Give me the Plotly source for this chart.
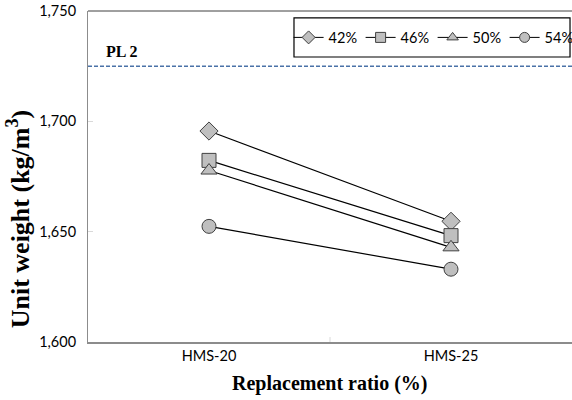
import plotly.graph_objects as go

categories = ["HMS-20", "HMS-25"]
s42 = [1695.6, 1654.7]
s46 = [1682.3, 1648.2]
s50 = [1677.7, 1642.9]
s54 = [1652.4, 1633.0]
series_names = ["42%", "46%", "50%", "54%"]
series_values = [s42, s46, s50, s54]
symbols = ["diamond", "square", "triangle-up", "circle"]
pl2_value = 1725
y_ticks = [1600, 1650, 1700, 1750]
y_ticklabels = ["1,600", "1,650", "1,700", "1,750"]

fig = go.Figure()
for name, vals, sym in zip(series_names, series_values, symbols):
    fig.add_trace(go.Scatter(
        x=categories, y=vals, name=name, mode="lines+markers",
        showlegend=False,
        line=dict(color="black", width=1.2),
        marker=dict(symbol=sym, size=14, color="#bfbfbf",
                    line=dict(color="#404040", width=1)),
    ))
# legend entries (smaller symbols as in the reference legend)
for name, sym in zip(series_names, symbols):
    fig.add_trace(go.Scatter(
        x=[None], y=[None], name=name, mode="lines+markers",
        line=dict(color="black", width=1),
        marker=dict(symbol=sym, size=10, color="#bfbfbf",
                    line=dict(color="#404040", width=1)),
    ))

fig.add_shape(type="line", xref="paper", yref="y", x0=0, x1=1,
              y0=pl2_value, y1=pl2_value,
              line=dict(color="#4a72a8", width=1.5, dash="4px,2px"))
fig.add_shape(type="line", xref="paper", yref="paper", x0=0, x1=1,
              y0=1, y1=1, line=dict(color="#404040", width=1))
# legend frame
fig.add_shape(type="rect", xref="paper", yref="paper", x0=0.4256, x1=0.9959,
              y0=0.861, y1=0.979, line=dict(color="black", width=1.2),
              fillcolor="rgba(0,0,0,0)")
fig.add_annotation(text="<b>PL 2</b>", xref="paper", yref="y", x=0.034,
                   y=pl2_value, yshift=15, xanchor="left", showarrow=False,
                   font=dict(family="Liberation Serif", size=16, color="black"))

fig.add_annotation(text="<b>Unit weight (kg/m<sup>3</sup>)</b>", xref="paper",
                   yref="paper", x=-0.143, y=0.5, yshift=-42, textangle=-90,
                   showarrow=False, xanchor="center", yanchor="middle",
                   font=dict(family="Liberation Serif", size=26, color="black"))
fig.add_annotation(text="<b>Replacement ratio (%)</b>", xref="paper",
                   yref="paper", x=0.5, y=0, yshift=-41, showarrow=False,
                   xanchor="center", yanchor="middle",
                   font=dict(family="Liberation Serif", size=20, color="black"))

fig.update_layout(
    width=572, height=400,
    margin=dict(l=88, r=0, t=11, b=58, autoexpand=False),
    plot_bgcolor="white", paper_bgcolor="white",
    font=dict(family="Lato", size=14, color="black"),
    showlegend=True,
    legend=dict(orientation="h", x=0.712, xanchor="center", y=0.92,
                yanchor="middle", borderwidth=0,
                font=dict(family="Lato", size=14.5), itemwidth=30,
                entrywidth=27, entrywidthmode="pixels",
                bgcolor="rgba(0,0,0,0)", tracegroupgap=0),
    xaxis=dict(type="category", range=[-0.5, 1.5], showgrid=False,
               showline=True, linecolor="#8c8c8c", linewidth=2,
               ticks="", zeroline=False, tickfont=dict(size=14.5)),
    yaxis=dict(range=[1600, 1750], tickvals=y_ticks, ticktext=y_ticklabels,
               showgrid=False, showline=True, linecolor="#8c8c8c",
               linewidth=1, ticks="inside", ticklen=5, tickcolor="#d9d9d9",
               zeroline=False, tickfont=dict(size=14.5), ticklabelstandoff=8),
)
fig.add_shape(type="line", xref="paper", yref="paper", x0=0.5, x1=0.5,
              y0=0, y1=0.015, line=dict(color="#d9d9d9", width=1))

fig.write_html("out.html")
